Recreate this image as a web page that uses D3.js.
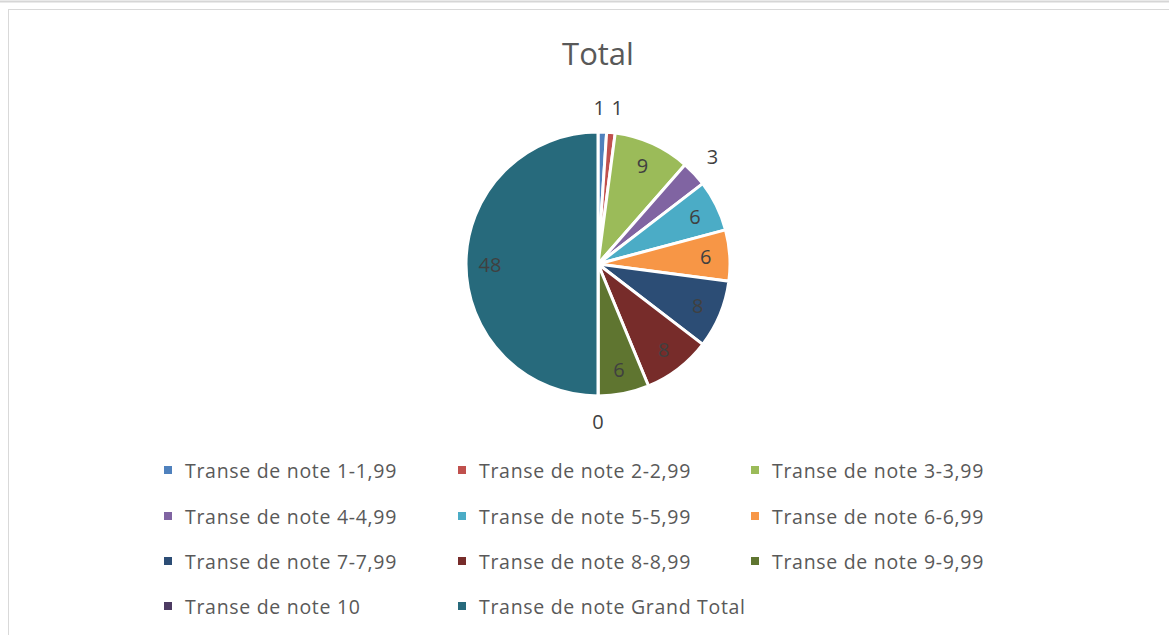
<!DOCTYPE html>
<html>
<head>
<meta charset="utf-8">
<script src="https://cdn.jsdelivr.net/npm/d3@7"></script>
<style>
html,body{margin:0;padding:0;background:#fff;}
svg{display:block;font-family:"Open Sans","Noto Sans",sans-serif;}
</style>
</head>
<body>
<svg id="chart" width="1169" height="635"></svg>
<script>
const title = "Total";
const categories = [
  "Transe de note 1-1,99","Transe de note 2-2,99","Transe de note 3-3,99",
  "Transe de note 4-4,99","Transe de note 5-5,99","Transe de note 6-6,99",
  "Transe de note 7-7,99","Transe de note 8-8,99","Transe de note 9-9,99",
  "Transe de note 10","Transe de note Grand Total"
];
const values = [1,1,9,3,6,6,8,8,6,0,48];
const colors = ["#4F81BD","#C0504D","#9BBB59","#8064A2","#4BACC6","#F79646",
                "#2C4D75","#772C2A","#5F7530","#4D3B62","#276A7C"];

const W = 1169, H = 635;
const svg = d3.select("#chart");

// page artifacts and chart frame
svg.append("line").attr("x1",0).attr("x2",W).attr("y1",1.5).attr("y2",1.5)
  .attr("stroke","#d6d6d6").attr("stroke-width",2);
svg.append("rect").attr("x",8.5).attr("y",9.5).attr("width",W+10).attr("height",H+10)
  .attr("fill","#fff").attr("stroke","#d9d9d9").attr("stroke-width",1);

svg.append("text").attr("x",598).attr("y",65).attr("text-anchor","middle")
  .attr("font-size",31).attr("fill","#595959").text(title);

const cx = 598, cy = 264, R = 132;
const total = d3.sum(values);
const pie = d3.pie().sort(null).value(d => d.v);
const data = pie(values.map((v,i)=>({v, name:categories[i], color:colors[i]})));
const arc = d3.arc().innerRadius(0).outerRadius(R);
const labelIn = d3.arc().innerRadius(108).outerRadius(108);
const labelOut = d3.arc().innerRadius(157).outerRadius(157);

const g = svg.append("g").attr("transform",`translate(${cx},${cy})`);
g.selectAll("path").data(data).join("path")
  .attr("d", arc).attr("fill", d=>d.data.color)
  .attr("stroke","#fff").attr("stroke-width",3).attr("stroke-linejoin","round");

// label positions, with simple overlap avoidance for outside labels
const pos = data.map(d => {
  const outside = d.data.v/total < 0.05;
  const p = (outside ? labelOut : labelIn).centroid(d);
  return {x:p[0], y:p[1], outside};
});
for (let i=1;i<pos.length;i++){
  const a = pos[i-1], b = pos[i];
  if (a.outside && b.outside && Math.abs(a.x-b.x) < 18 && Math.abs(a.y-b.y) < 20){
    const need = (18 - Math.abs(a.x-b.x))/2;
    a.x -= need; b.x += need;
  }
}

g.selectAll("text.lbl").data(data).join("text").attr("class","lbl")
  .attr("transform", (d,i) => `translate(${pos[i].x},${pos[i].y})`)
  .attr("text-anchor","middle").attr("dominant-baseline","central")
  .attr("font-size",20).attr("fill","#404040")
  .text(d => d.data.v);

// legend
const colX = [168, 462, 755];
const rowY = [470, 516, 561, 606];
const lg = svg.append("g");
categories.forEach((c,i)=>{
  const x = colX[i%3], y = rowY[Math.floor(i/3)];
  lg.append("rect").attr("x",x-4).attr("y",y-4).attr("width",8).attr("height",8).attr("fill",colors[i]);
  lg.append("text").attr("x",x+17).attr("y",y).attr("dominant-baseline","central")
    .attr("font-size",19.5).attr("letter-spacing",0.7).attr("fill","#595959").text(c);
});
</script>
</body>
</html>
